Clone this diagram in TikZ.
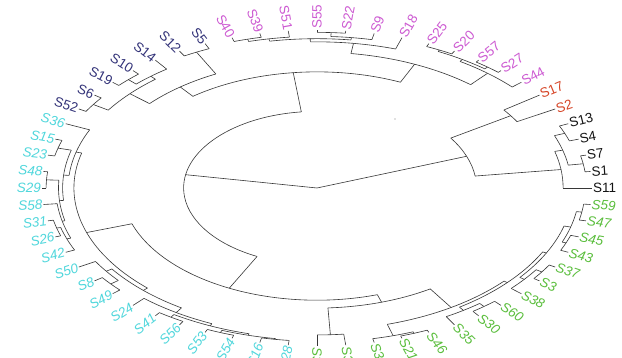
\documentclass[tikz,border=0pt]{standalone}
\usepackage{fontspec}
\setmainfont{Liberation Sans}
\definecolor{pinkc}{RGB}{205,90,210}
\definecolor{redc}{RGB}{215,70,40}
\definecolor{navyc}{RGB}{50,50,120}
\definecolor{cyanc}{RGB}{80,215,220}
\definecolor{greenc}{RGB}{90,190,60}
\definecolor{blackc}{RGB}{20,20,20}
\definecolor{treec}{RGB}{55,55,55}
\tikzset{
  tree/.style={draw=treec, line width=0.6pt},
  lab/.style={inner sep=1pt, font=\fontsize{13.5}{16}\selectfont},
  pk/.style={text=pinkc},
  rd/.style={text=redc},
  nv/.style={text=navyc},
  cy/.style={text=cyanc, font=\fontsize{13.5}{16}\selectfont\itshape},
  gr/.style={text=greenc, font=\fontsize{13.5}{16}\selectfont\itshape},
  bk/.style={text=blackc}
}
\newcommand{\dRad}[3]{\draw[tree] ({275*#2*cos(#1)*1pt},{158*#2*sin(#1)*1pt}) -- ({275*#3*cos(#1)*1pt},{158*#3*sin(#1)*1pt});}
\newcommand{\dNode}[5]{\dRad{#1}{#2}{#3}\draw[tree] ({275*#3*cos(#4)*1pt},{158*#3*sin(#4)*1pt}) arc[start angle=#4, end angle=#5, x radius={275*#3*1pt}, y radius={158*#3*1pt}];}
\newcommand{\leafR}[4]{\dRad{#1}{#2}{1}\pgfmathsetmacro\lrot{atan2(158*sin(#1),275*cos(#1))}\node[lab,#4,anchor=west,rotate=\lrot] (#3) at ({275*cos(#1)*1pt},{158*sin(#1)*1pt}) {#3};}
\newcommand{\leafL}[4]{\dRad{#1}{#2}{1}\pgfmathsetmacro\lrot{atan2(158*sin(#1),275*cos(#1))+180}\node[lab,#4,anchor=east,rotate=\lrot] (#3) at ({275*cos(#1)*1pt},{158*sin(#1)*1pt}) {#3};}
\begin{document}
\begin{tikzpicture}[x=1pt,y=1pt]
\useasboundingbox[fill=white] (0,0) rectangle (622,358);
\fill[gray] (395,239) circle (0.6);
\begin{scope}[shift={(317,170)}]
% right clade
\dNode{20.25}{0}{0.58}{7.5}{33}
\dNode{7.5}{0.58}{0.895}{0}{15}
\dNode{15}{0.895}{0.925}{9}{21}
\dNode{9}{0.925}{0.98}{6}{12}
\dNode{21}{0.925}{0.965}{18}{24}
\dNode{33}{0.58}{0.84}{30}{36}
\leafR{0}{0.895}{S11}{bk}
\leafR{6}{0.98}{S1}{bk}
\leafR{12}{0.98}{S7}{bk}
\leafR{18}{0.965}{S4}{bk}
\leafR{24}{0.965}{S13}{bk}
\leafR{30}{0.84}{S2}{rd}
\leafR{36}{0.84}{S17}{rd}
% left clade
\dNode{170}{0}{0.485}{96.75}{243.3}
\dNode{96.75}{0.485}{0.735}{65.625}{127.875}
% pink
\dNode{65.625}{0.735}{0.86}{49.5}{81.75}
\dNode{49.5}{0.86}{0.955}{42}{57}
\dNode{57}{0.955}{0.97}{51}{63}
\dNode{51}{0.97}{0.985}{48}{54}
\dNode{63}{0.97}{0.98}{60}{66}
\dNode{81.75}{0.86}{0.925}{72}{91.5}
\dNode{91.5}{0.925}{0.945}{82.5}{100.5}
\dNode{82.5}{0.945}{0.96}{78}{87}
\dNode{87}{0.96}{0.985}{84}{90}
\dNode{100.5}{0.945}{0.96}{96}{105}
\dNode{105}{0.96}{0.975}{102}{108}
\leafR{42}{0.955}{S44}{pk}
\leafR{48}{0.985}{S27}{pk}
\leafR{54}{0.985}{S57}{pk}
\leafR{60}{0.98}{S20}{pk}
\leafR{66}{0.98}{S25}{pk}
\leafR{72}{0.925}{S18}{pk}
\leafR{78}{0.96}{S9}{pk}
\leafR{84}{0.985}{S22}{pk}
\leafR{90}{0.985}{S55}{pk}
\leafL{96}{0.96}{S51}{pk}
\leafL{102}{0.975}{S39}{pk}
\leafL{108}{0.975}{S40}{pk}
% navy
\dNode{127.875}{0.735}{0.81}{117}{138.75}
\dNode{117}{0.81}{0.965}{114}{120}
\dNode{138.75}{0.81}{0.905}{130.5}{147}
\dNode{130.5}{0.905}{0.93}{126}{135}
\dNode{135}{0.93}{0.97}{132}{138}
\dNode{147}{0.905}{0.97}{144}{150}
\leafL{114}{0.965}{S5}{nv}
\leafL{120}{0.965}{S12}{nv}
\leafL{126}{0.93}{S14}{nv}
\leafL{132}{0.97}{S10}{nv}
\leafL{138}{0.97}{S19}{nv}
\leafL{144}{0.97}{S6}{nv}
\leafL{150}{0.97}{S52}{nv}
% lower
\dNode{243.3}{0.485}{0.71}{198.6}{288}
% cyan
\dNode{198.6}{0.71}{0.884}{165.47}{225.75}
\dNode{165.47}{0.884}{0.905}{156}{174.94}
\dNode{174.94}{0.905}{0.925}{165}{184.875}
\dNode{165}{0.925}{0.975}{162}{168}
\dNode{184.875}{0.925}{0.94}{177}{192.75}
\dNode{177}{0.94}{0.985}{174}{180}
\dNode{192.75}{0.94}{0.95}{186}{199.5}
\dNode{199.5}{0.95}{0.965}{195}{204}
\dNode{195}{0.965}{0.98}{192}{198}
\dNode{225.75}{0.884}{0.905}{214.5}{237}
\dNode{214.5}{0.905}{0.93}{210}{219}
\dNode{219}{0.93}{0.965}{216}{222}
\dNode{237}{0.905}{0.94}{228}{246}
\dNode{246}{0.94}{0.955}{237}{255}
\dNode{237}{0.955}{0.975}{234}{240}
\dNode{255}{0.955}{0.965}{249}{261}
\dNode{249}{0.965}{0.98}{246}{252}
\dNode{261}{0.965}{0.97}{258}{264}
\leafL{156}{0.905}{S36}{cy}
\leafL{162}{0.975}{S15}{cy}
\leafL{168}{0.975}{S23}{cy}
\leafL{174}{0.985}{S48}{cy}
\leafL{180}{0.985}{S29}{cy}
\leafL{186}{0.95}{S58}{cy}
\leafL{192}{0.98}{S31}{cy}
\leafL{198}{0.98}{S26}{cy}
\leafL{204}{0.965}{S42}{cy}
\leafL{210}{0.93}{S50}{cy}
\leafL{216}{0.965}{S8}{cy}
\leafL{222}{0.965}{S49}{cy}
\leafL{228}{0.94}{S24}{cy}
\leafL{234}{0.975}{S41}{cy}
\leafL{240}{0.975}{S56}{cy}
\leafL{246}{0.98}{S53}{cy}
\leafL{252}{0.98}{S54}{cy}
\leafL{258}{0.97}{S16}{cy}
\leafL{264}{0.97}{S28}{cy}
% green
\dNode{288}{0.71}{0.76}{273}{302.8125}
\dNode{273}{0.76}{0.93}{270}{276}
\dNode{302.8125}{0.76}{0.9}{286.5}{319.125}
\dNode{286.5}{0.9}{0.975}{282}{291}
\dNode{291}{0.975}{0.985}{288}{294}
\dNode{319.125}{0.9}{0.915}{304.5}{333.75}
\dNode{304.5}{0.915}{0.94}{300}{309}
\dNode{309}{0.94}{0.965}{306}{312}
\dNode{333.75}{0.915}{0.93}{322.5}{345}
\dNode{322.5}{0.93}{0.95}{318}{327}
\dNode{327}{0.95}{0.975}{324}{330}
\dNode{345}{0.93}{0.955}{339}{351}
\dNode{339}{0.955}{0.97}{336}{342}
\dNode{351}{0.955}{0.975}{348}{354}
\leafR{270}{0.93}{S33}{gr}
\leafR{276}{0.93}{S32}{gr}
\leafR{282}{0.975}{S34}{gr}
\leafR{288}{0.985}{S21}{gr}
\leafR{294}{0.985}{S46}{gr}
\leafR{300}{0.94}{S35}{gr}
\leafR{306}{0.965}{S30}{gr}
\leafR{312}{0.965}{S60}{gr}
\leafR{318}{0.95}{S38}{gr}
\leafR{324}{0.975}{S3}{gr}
\leafR{330}{0.975}{S37}{gr}
\leafR{336}{0.97}{S43}{gr}
\leafR{342}{0.97}{S45}{gr}
\leafR{348}{0.975}{S47}{gr}
\leafR{354}{0.975}{S59}{gr}
\end{scope}
\end{tikzpicture}
\end{document}
